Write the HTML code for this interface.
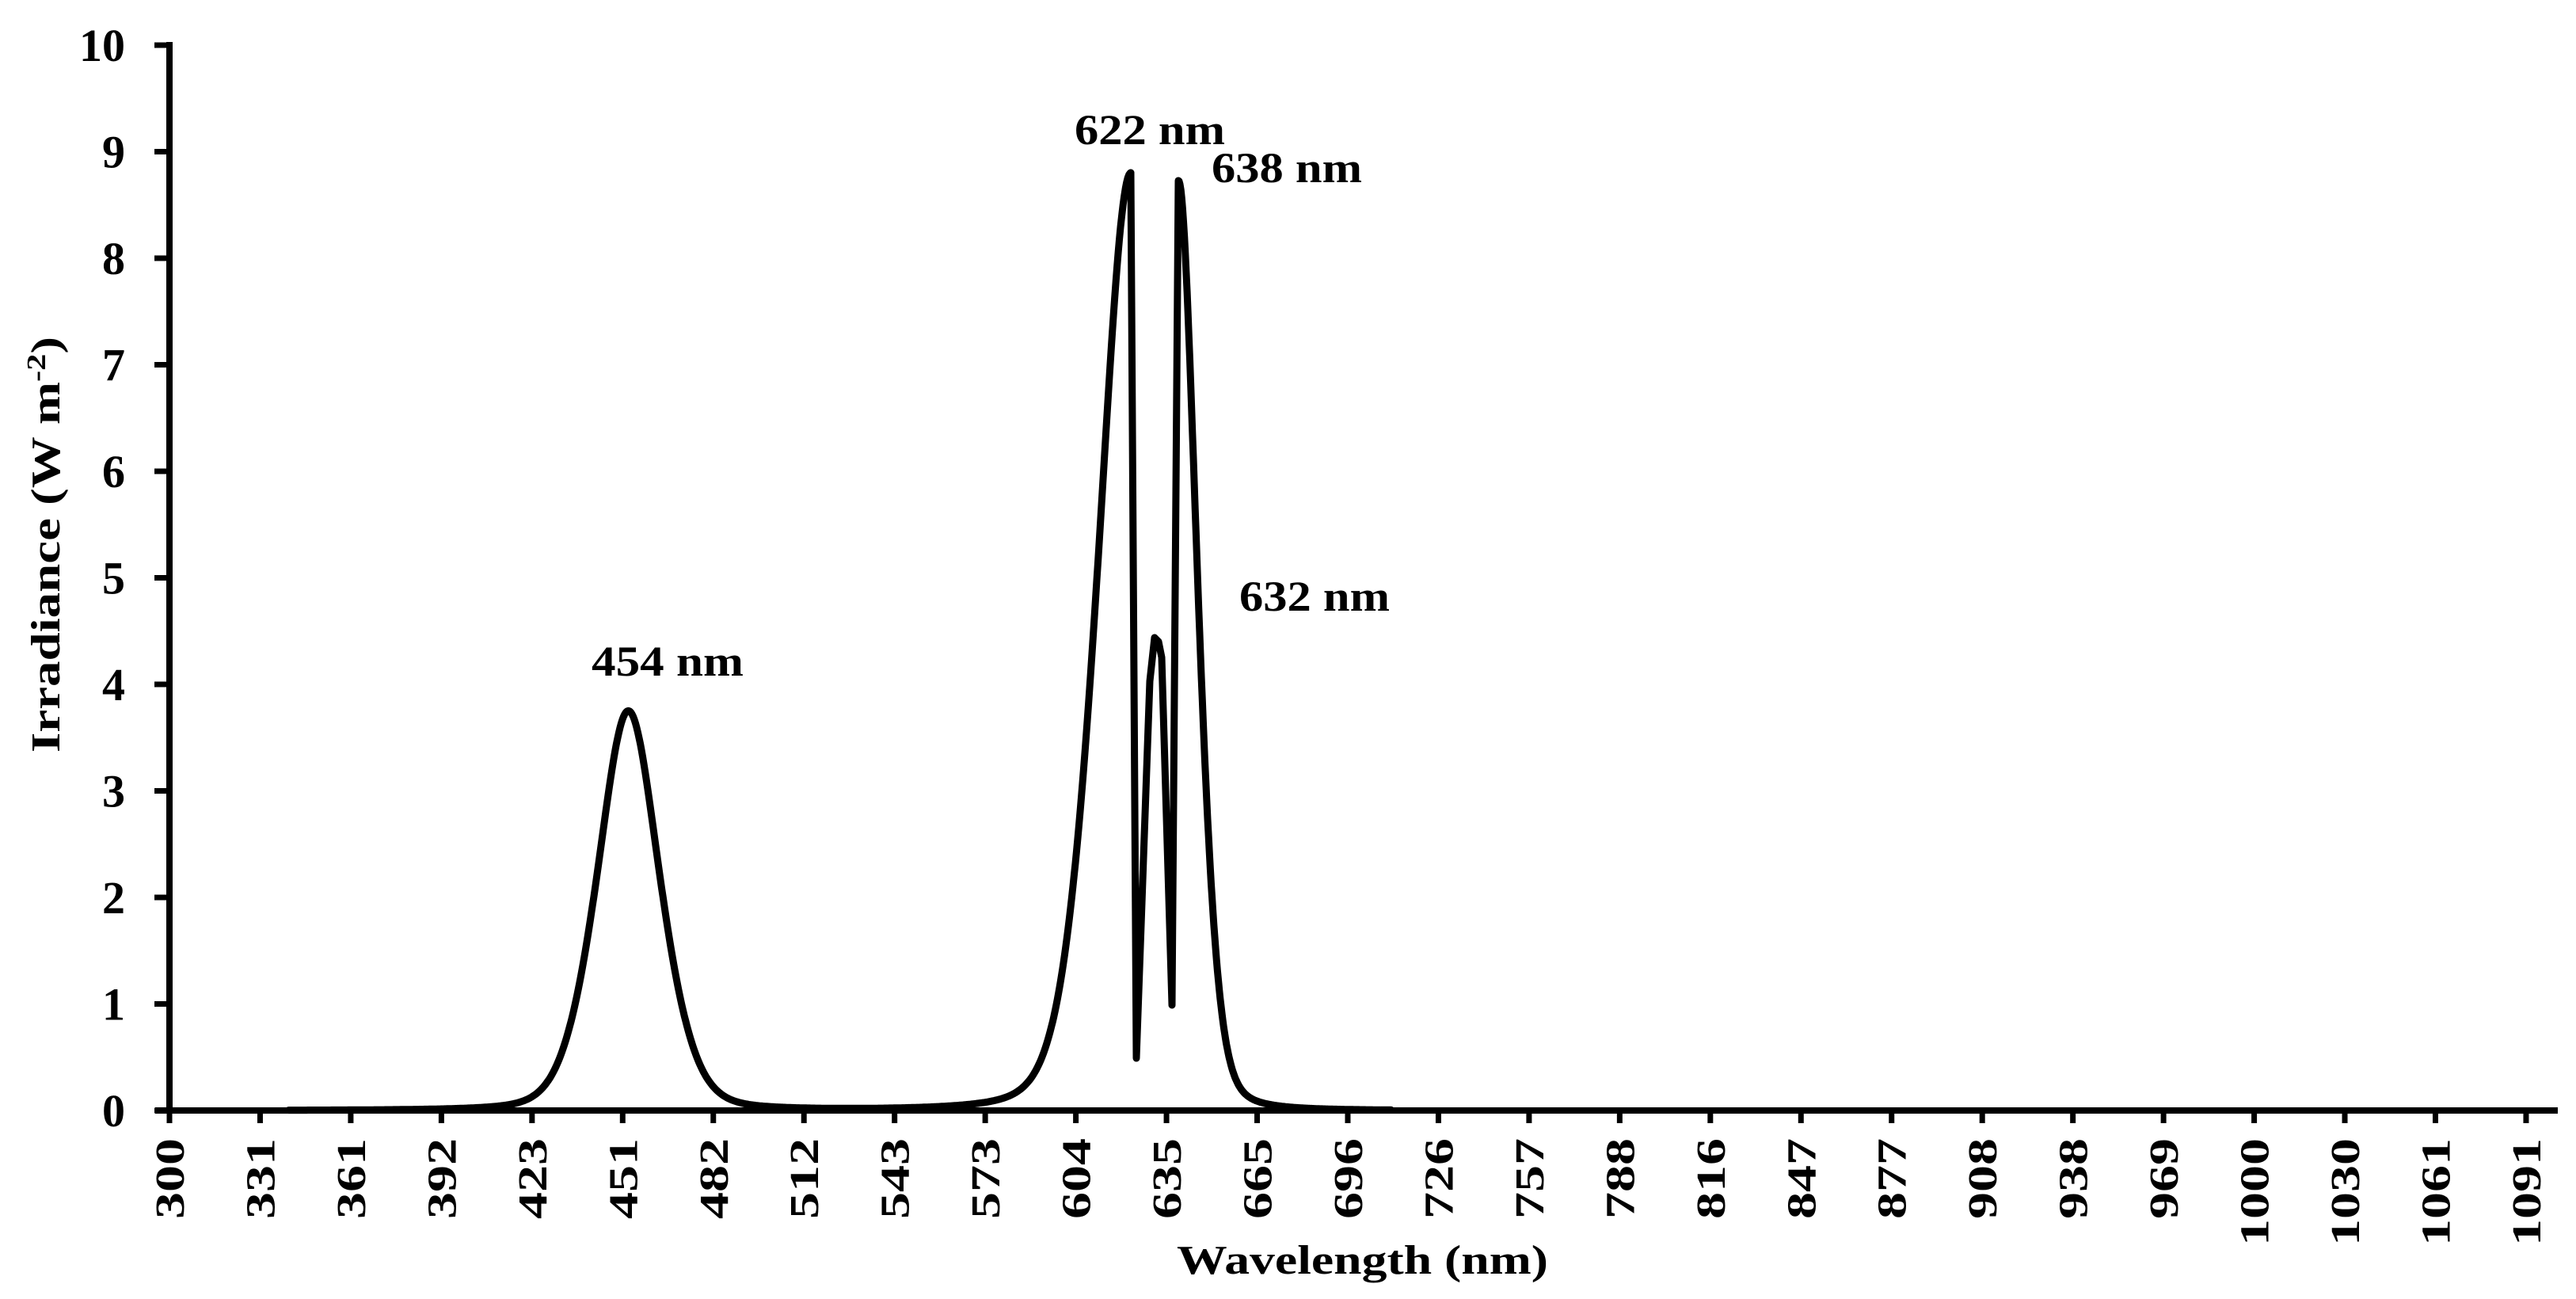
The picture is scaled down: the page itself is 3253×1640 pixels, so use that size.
<!DOCTYPE html>
<html><head><meta charset="utf-8"><style>
html,body{margin:0;padding:0;background:#fff;}
svg{display:block;}
text{font-family:"Liberation Serif","Times New Roman",serif;font-weight:bold;fill:#000;}
</style></head><body>
<svg id="s" width="3253" height="1640" viewBox="0 0 3253 1640" xmlns="http://www.w3.org/2000/svg">
<g id="axes" stroke="#000" stroke-width="8" fill="none">
<line x1="214" y1="53" x2="214" y2="1406"/>
<line x1="196" y1="1402" x2="3230" y2="1402"/>
</g>
<g id="ticks" stroke="#000" stroke-width="7"></g>
<g id="labels"></g>
<path id="curve" fill="none" stroke="#000" stroke-width="9" stroke-linejoin="round" stroke-linecap="round"/>
<text x="1357" y="182" font-size="54" textLength="190" lengthAdjust="spacingAndGlyphs">622 nm</text>
<text x="1530" y="230" font-size="54" textLength="190" lengthAdjust="spacingAndGlyphs">638 nm</text>
<text x="1565" y="771" font-size="54" textLength="190" lengthAdjust="spacingAndGlyphs">632 nm</text>
<text x="747" y="853" font-size="54" textLength="192" lengthAdjust="spacingAndGlyphs">454 nm</text>
<text x="1486" y="1608" font-size="52" textLength="469" lengthAdjust="spacingAndGlyphs">Wavelength  (nm)</text>
<text transform="translate(75,950) rotate(-90)" font-size="52" textLength="525" lengthAdjust="spacingAndGlyphs">Irradiance (W m<tspan dy="-18" font-size="34">-2</tspan><tspan dy="18">)</tspan></text>
</svg>
<script>
var NS="http://www.w3.org/2000/svg";
var tk=document.getElementById("ticks"), lb=document.getElementById("labels");
function el(p,n,a,t){var e=document.createElementNS(NS,n);for(var k in a)e.setAttribute(k,a[k]);if(t!==undefined)e.textContent=t;p.appendChild(e);return e;}
for(var i=0;i<=10;i++){var y=1402-134.5*i;
 el(tk,"line",{x1:195,y1:y,x2:214,y2:y});
 el(lb,"text",{x:158,y:y+20,"font-size":58,"text-anchor":"end"},String(i));}
var xl=[300,331,361,392,423,451,482,512,543,573,604,635,665,696,726,757,788,816,847,877,908,938,969,1000,1030,1061,1091];
for(var j=0;j<xl.length;j++){var x=214+114.46*j;
 el(tk,"line",{x1:x,y1:1402,x2:x,y2:1418});
 var s=String(xl[j]);var L=s.length*34;
 el(lb,"text",{transform:"translate("+(x+18)+",1437) rotate(-90)","font-size":52,"text-anchor":"end",textLength:L,lengthAdjust:"spacingAndGlyphs"},s);}
function X(l){return 214+3.763*(l-300);}
function Y(v){return 1402-134.5*v;}
function pv(l,c,A,w){var d=(l-c)/w;var L=1/(1+d*d);return A*(0.4*Math.pow(L,1.5)+0.6*Math.exp(-0.693*d*d));}
function red(l){return l<622.6?pv(l,622.6,8.8,14):0;}
function red2(l){return l>638.6?pv(l,638.6,8.73,8):0;}
var pts=[];
for(var l=340;l<=622.6;l+=0.4){var v=pv(l,454,3.75,13.5)+red(l);pts.push([X(l),Y(v)]);}
pts.push([1428,218],[1435,1336],[1452,860],[1458,805],[1463,810],[1467,830],[1480,1269],[1488,228]);
for(var l=638.8;l<=710;l+=0.3){var v=red2(l);pts.push([X(l),Y(v)]);}
var d="M"+pts.map(function(p){return p[0].toFixed(1)+","+p[1].toFixed(1);}).join(" L");
document.getElementById("curve").setAttribute("d",d);
</script>
</body></html>
